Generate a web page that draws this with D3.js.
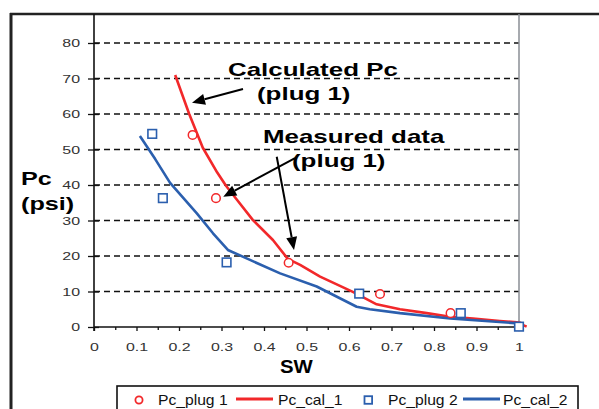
<!DOCTYPE html>
<html><head><meta charset="utf-8">
<script src="https://cdn.jsdelivr.net/npm/d3@7"></script>
<style>
body{margin:0;background:#fff}
svg{display:block}
text{font-family:"Liberation Sans",Arial,Helvetica,sans-serif}
</style>
</head><body>
<svg id="c" width="599" height="409"></svg>
<script>
// ---- data ----
const swPlug1 = [0.232, 0.287, 0.458, 0.673, 0.839, 1.0];
const pcPlug1 = [54.1, 36.3, 18.1, 9.3, 3.9, 0.2];
const swPlug2 = [0.137, 0.162, 0.312, 0.624, 0.863, 1.0];
const pcPlug2 = [54.4, 36.3, 18.2, 9.4, 3.9, 0.1];
const swCal1 = [0.191, 0.224, 0.256, 0.29, 0.311, 0.334, 0.374, 0.421, 0.456, 0.485, 0.532, 0.609, 0.665, 0.72, 0.783, 0.838, 0.892, 0.955, 0.995, 1.018];
const pcCal1 = [71.0, 60.0, 50.5, 43.5, 39.7, 36.2, 30.1, 24.5, 19.2, 17.5, 14.2, 9.9, 6.4, 5.0, 3.9, 2.9, 2.4, 1.7, 1.3, 0.1];
const swCal2 = [0.108, 0.144, 0.179, 0.242, 0.28, 0.315, 0.367, 0.438, 0.524, 0.618, 0.649, 0.72, 0.838, 1.0];
const pcCal2 = [53.8, 47.3, 40.6, 32.0, 26.4, 21.7, 18.9, 15.1, 11.4, 5.7, 5.0, 3.9, 2.4, 1.0];
const xTicks = [0,0.05,0.1,0.15,0.2,0.25,0.3,0.35,0.4,0.45,0.5,0.55,0.6,0.65,0.7,0.75,0.8,0.85,0.9,0.95,1];
const xLabels = ["0","0.1","0.2","0.3","0.4","0.5","0.6","0.7","0.8","0.9","1"];
const yTicks = [0,10,20,30,40,50,60,70,80];
const legendNames = ["Pc_plug 1","Pc_cal_1","Pc_plug 2","Pc_cal_2"];
// annotation arrows in data units [sw0, pc0, sw1, pc1]
const arrows = [[0.3506,67.04,0.2306,63.18],[0.473,47.6,0.3042,36.7],[0.43,47.97,0.4706,21.69]];

const RED = "#f2282a", BLUE = "#2b5fae";
const svg = d3.select("#c");
svg.append("rect").attr("width",599).attr("height",409).attr("fill","#fff");

const x = d3.scaleLinear().domain([0,1]).range([94,519]);
const y = d3.scaleLinear().domain([0,80]).range([327,43]);

// frame
svg.append("line").attr("x1",10).attr("x2",599).attr("y1",14).attr("y2",14).attr("stroke","#222").attr("stroke-width",2.5);
svg.append("line").attr("x1",11).attr("x2",11).attr("y1",13).attr("y2",409).attr("stroke","#222").attr("stroke-width",3);

// gridlines
svg.append("g").selectAll("line").data(yTicks.filter(d=>d>0)).join("line")
  .attr("x1",x(0)).attr("x2",x(1)).attr("y1",d=>y(d)).attr("y2",d=>y(d))
  .attr("stroke","#111").attr("stroke-width",1.3).attr("stroke-dasharray","6,4");

// right border
svg.append("line").attr("x1",x(1)).attr("x2",x(1)).attr("y1",14).attr("y2",y(0)).attr("stroke","#8a8e94").attr("stroke-width",1.5);

// y axis
const ya = svg.append("g").attr("transform",`translate(${x(0)},0)`)
  .call(d3.axisLeft(y).tickValues(yTicks).tickSize(6).tickPadding(3.6));
ya.select(".domain").remove();
ya.selectAll(".tick line").attr("x1",5).attr("stroke","#111").attr("stroke-width",1.3);
ya.selectAll(".tick text").attr("font-size",11).attr("fill","#333")
  .attr("font-family","'Liberation Sans',Arial,sans-serif")
  .attr("transform","scale(1.45,1)");
svg.append("line").attr("x1",x(0)).attr("x2",x(0)).attr("y1",14).attr("y2",y(0)+4).attr("stroke","#111").attr("stroke-width",1.6);

// x axis
const xa = svg.append("g").attr("transform",`translate(0,${y(0)})`)
  .call(d3.axisBottom(x).tickValues(xTicks).tickSize(4).tickPadding(0)
    .tickFormat((d,i)=> i%2===0 ? xLabels[i/2] : ""));
xa.select(".domain").attr("stroke","#111").attr("stroke-width",1.6).attr("d",`M${x(0)},0H${x(1)}`);
xa.selectAll(".tick line").attr("stroke","#111").attr("stroke-width",1.3).attr("y2",(d,i)=> i%2===0?4:3);
xa.selectAll(".tick text").attr("font-size",11).attr("fill","#333")
  .attr("font-family","'Liberation Sans',Arial,sans-serif")
  .attr("y",24.3).attr("dy",0).attr("transform","scale(1.45,1)");

// lines
const line = d3.line().x(d=>x(d[0])).y(d=>y(d[1]));
svg.append("path").datum(swCal1.map((s,i)=>[s,pcCal1[i]])).attr("d",line)
  .attr("fill","none").attr("stroke",RED).attr("stroke-width",2.6).attr("stroke-linejoin","round");
svg.append("path").datum(swCal2.map((s,i)=>[s,pcCal2[i]])).attr("d",line)
  .attr("fill","none").attr("stroke",BLUE).attr("stroke-width",2.6).attr("stroke-linejoin","round");

// markers
svg.append("g").selectAll("circle").data(swPlug1.map((s,i)=>[s,pcPlug1[i]])).join("circle")
  .attr("cx",d=>x(d[0])).attr("cy",d=>y(d[1])).attr("r",4.3)
  .attr("fill","#fff").attr("stroke",RED).attr("stroke-width",1.5);
svg.append("g").selectAll("rect").data(swPlug2.map((s,i)=>[s,pcPlug2[i]])).join("rect")
  .attr("x",d=>x(d[0])-4.3).attr("y",d=>y(d[1])-4.3).attr("width",8.6).attr("height",8.6)
  .attr("fill","#fff").attr("stroke",BLUE).attr("stroke-width",1.6);

// annotations
function stext(txt,px,py,size,sx,weight){
  svg.append("text").attr("transform",`translate(${px},${py}) scale(${sx},1)`)
    .attr("font-size",size).attr("font-weight",weight).attr("fill","#000").text(txt);
}
stext("Calculated Pc",228,76,18.5,1.4,"bold");
stext("(plug 1)",257,100,18.5,1.4,"bold");
stext("Measured data",263,143,18.5,1.4,"bold");
stext("(plug 1)",292,167,18.5,1.4,"bold");
stext("Pc",21,185,18.5,1.36,"bold");
stext("(psi)",21,210,18.5,1.36,"bold");
stext("SW",280,373,18.5,1.1,"bold");

arrows.forEach(a=>{
  const x0=x(a[0]),y0=y(a[1]),x1=x(a[2]),y1=y(a[3]);
  const ang=Math.atan2(y1-y0,x1-x0), L=13, W=5.5;
  const bx=x1-L*Math.cos(ang), by=y1-L*Math.sin(ang);
  svg.append("line").attr("x1",x0).attr("y1",y0).attr("x2",bx).attr("y2",by)
    .attr("stroke","#000").attr("stroke-width",2);
  const p=[[x1,y1],[bx+W*Math.sin(ang),by-W*Math.cos(ang)],[bx-W*Math.sin(ang),by+W*Math.cos(ang)]];
  svg.append("polygon").attr("points",p.map(q=>q.join(",")).join(" ")).attr("fill","#000");
});

// legend
const lg = svg.append("g");
lg.append("rect").attr("x",117).attr("y",386).attr("width",461).attr("height",40)
  .attr("fill","#fff").attr("stroke","#111").attr("stroke-width",1.6);
const ly = 400;
lg.append("circle").attr("cx",139).attr("cy",ly).attr("r",3.6).attr("fill","#fff").attr("stroke",RED).attr("stroke-width",1.8);
lg.append("line").attr("x1",236).attr("x2",273).attr("y1",ly-1).attr("y2",ly-1).attr("stroke",RED).attr("stroke-width",3);
lg.append("rect").attr("x",364.5).attr("y",ly-3.8).attr("width",7.6).attr("height",7.6).attr("fill","#fff").attr("stroke",BLUE).attr("stroke-width",1.8);
lg.append("line").attr("x1",463).attr("x2",500).attr("y1",ly-1).attr("y2",ly-1).attr("stroke",BLUE).attr("stroke-width",3);
const lx=[158,278,388,503];
legendNames.forEach((n,i)=>{
  lg.append("text").attr("transform",`translate(${lx[i]},405) scale(1.08,1)`)
    .attr("font-size",14.5).attr("fill","#111").text(n);
});
</script>
</body></html>
